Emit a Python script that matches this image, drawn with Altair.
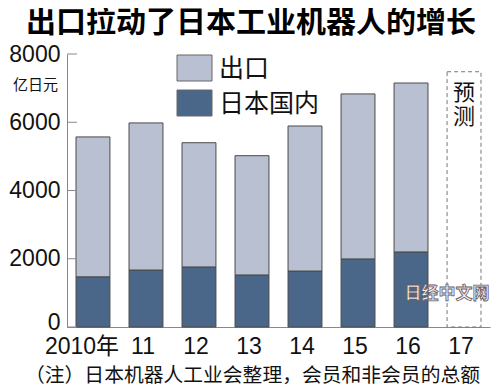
import altair as alt
import pandas as pd

years = ["2010年", "11", "12", "13", "14", "15", "16", "17"]
bar_years = years[:7]
domestic = [1470, 1670, 1760, 1525, 1640, 1995, 2200]
export = [4100, 4310, 3640, 3495, 4250, 4835, 4950]
forecast_year = "17"
forecast_top = 7480
series = ["出口", "日本国内"]
colors = ["#b8c0d1", "#4a6789"]
y_ticks = [0, 2000, 4000, 6000, 8000]
title_text = "出口拉动了日本工业机器人的增长"
unit_text = "亿日元"
note_text = "（注）日本机器人工业会整理，会员和非会员的总额"
forecast_text = "预\n测"
watermark_text = "日经中文网"

CJK = "Noto Sans CJK SC"
NUM = "Liberation Sans, Noto Sans CJK SC, sans-serif"

rows = []
for yr, d, e in zip(bar_years, domestic, export):
    rows.append({"year": yr, "series": "日本国内", "value": d, "order": 0})
    rows.append({"year": yr, "series": "出口", "value": e, "order": 1})
df = pd.DataFrame(rows)

xscale = alt.Scale(domain=years, paddingInner=0.36, paddingOuter=0.17)
yscale = alt.Scale(domain=[0, 8000], nice=False)
cscale = alt.Scale(domain=series, range=colors)

x_axis = alt.Axis(title=None, labelAngle=0, ticks=False, domainColor="#888888",
                  labelFont=NUM, labelFontSize=23, labelColor="#111111", labelPadding=8,
                  labelOffset={"condition": {"test": "datum.value === '2010年'", "value": -11}, "value": -3})
y_axis = alt.Axis(title=None, values=y_ticks, format="d", ticks=False, grid=False, domainColor="#888888",
                  labelFont=NUM, labelFontSize=23, labelColor="#111111", labelPadding=7,
                  labelOffset={"condition": {"test": "datum.value === 0", "value": -5}, "value": 0})

bars = alt.Chart(df).mark_bar(stroke="#4a4a4a", strokeWidth=1).encode(
    x=alt.X("year:N", scale=xscale, axis=x_axis),
    y=alt.Y("value:Q", stack="zero", scale=yscale, axis=y_axis),
    color=alt.Color("series:N", scale=cscale, legend=None),
    order=alt.Order("order:Q"),
)

fc = pd.DataFrame({"year": [forecast_year], "value": [forecast_top], "t": [forecast_text]})
fbox = alt.Chart(fc).mark_bar(fillOpacity=0, stroke="#777777", strokeDash=[4, 3], strokeWidth=1).encode(
    x=alt.X("year:N", scale=xscale),
    y=alt.Y("value:Q", scale=yscale),
)
ftext = alt.Chart(fc).mark_text(font=CJK, fontSize=22, lineBreak="\n", lineHeight=24,
                                baseline="top", align="center", color="#111111").encode(
    x=alt.X("year:N", scale=xscale),
    y=alt.value(29),
    text="t:N",
)

ticks = alt.Chart(pd.DataFrame({"v": y_ticks})).mark_rule(color="#888888", strokeWidth=1).encode(
    y=alt.Y("v:Q", scale=yscale),
    x=alt.value(0),
    x2=alt.value(10),
)

layers = [bars, fbox, ftext, ticks]

for i, s in enumerate(series):
    ld = pd.DataFrame({"series": [s]})
    layers.append(alt.Chart(ld).mark_rect(stroke="#666666", strokeWidth=1).encode(
        x=alt.value(110), x2=alt.value(145),
        y=alt.value(1 + 35 * i), y2=alt.value(27 + 35 * i),
        color=alt.Color("series:N", scale=cscale, legend=None),
    ))
    layers.append(alt.Chart(ld).mark_text(font=CJK, fontSize=25, align="left", baseline="middle",
                                          color="#111111").encode(
        x=alt.value(152), y=alt.value(15 + 35 * i), text="series:N",
    ))

def label(text, x, y, size, align="center", weight="normal", **kw):
    return alt.Chart(pd.DataFrame({"t": [text]})).mark_text(
        font=CJK, fontSize=size, align=align, baseline="middle", fontWeight=weight, **kw
    ).encode(x=alt.value(x), y=alt.value(y), text="t:N")

layers.append(label(title_text, 184, -31, 30, weight="bold", color="#000000"))
layers.append(label(unit_text, -9, 31, 15, align="right", color="#111111"))
layers.append(label(note_text, -42, 322, 19.8, align="left", color="#111111"))
layers.append(label(watermark_text, 380, 240, 17, weight="bold", color="#f6eef2",
                    stroke="#6b5a62", strokeWidth=0.8))

chart = alt.layer(*layers).properties(
    width=423, height=273,
    autosize=alt.AutoSizeParams(type="none"),
    padding={"left": 59, "top": 46, "right": 2, "bottom": 62},
    background="white",
).configure_view(stroke=None)

chart.save("out.html", embed_options={"renderer": "svg", "actions": False})
